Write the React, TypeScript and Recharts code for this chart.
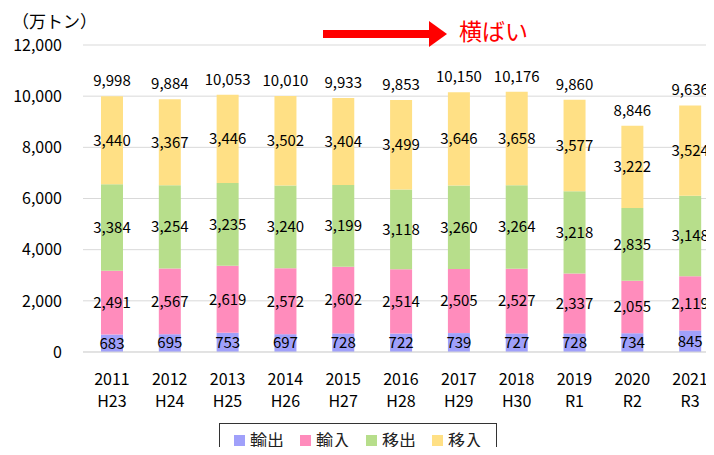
import React from 'react';
import { BarChart, Bar, XAxis, YAxis, CartesianGrid, LabelList } from 'recharts';

const YEARS = ['2011', '2012', '2013', '2014', '2015', '2016', '2017', '2018', '2019', '2020', '2021'];
const ERAS = ['H23', 'H24', 'H25', 'H26', 'H27', 'H28', 'H29', 'H30', 'R1', 'R2', 'R3'];
const EXPORTS = [683, 695, 753, 697, 728, 722, 739, 727, 728, 734, 845];
const IMPORTS = [2491, 2567, 2619, 2572, 2602, 2514, 2505, 2527, 2337, 2055, 2119];
const OUTBOUND = [3384, 3254, 3235, 3240, 3199, 3118, 3260, 3264, 3218, 2835, 3148];
const INBOUND = [3440, 3367, 3446, 3502, 3404, 3499, 3646, 3658, 3577, 3222, 3524];
const TOTALS = [9998, 9884, 10053, 10010, 9933, 9853, 10150, 10176, 9860, 8846, 9636];
const Y_TICKS = [0, 2000, 4000, 6000, 8000, 10000, 12000];

const SERIES = [
  { key: 'exp', name: '輸出', color: '#a0a0fa' },
  { key: 'imp', name: '輸入', color: '#ff8cbc' },
  { key: 'out', name: '移出', color: '#b7de8b' },
  { key: 'in', name: '移入', color: '#ffe085' },
];

const data = YEARS.map((y, i) => ({
  year: y,
  era: ERAS[i],
  exp: EXPORTS[i],
  imp: IMPORTS[i],
  out: OUTBOUND[i],
  in: INBOUND[i],
  total: TOTALS[i],
}));

const FONT = "'Noto Sans CJK JP', 'Noto Sans', sans-serif";
const fmt = (v: any) => Number(v).toLocaleString('en-US');

const XTick = (props: any) => {
  const { x, y, payload, index } = props;
  return (
    <text x={x} y={y} textAnchor="middle" fill="#000" fontSize={16} fontFamily={FONT}>
      <tspan x={x} dy={25}>{payload.value}</tspan>
      <tspan x={x} dy={22}>{ERAS[index]}</tspan>
    </text>
  );
};

const LegendBox = () => (
  <div style={{
    position: 'absolute', left: 219, top: 423,
    border: '1px solid #333', width: 278, height: 40, boxSizing: 'border-box',
    display: 'flex', alignItems: 'flex-start', paddingTop: 4, paddingLeft: 14,
    fontFamily: FONT, fontSize: 17, color: '#222', lineHeight: '24px', whiteSpace: 'nowrap',
  }}>
    {SERIES.map((s) => (
      <span key={s.key} style={{ display: 'flex', alignItems: 'center', marginRight: 16, whiteSpace: 'nowrap' }}>
        <span style={{ width: 11, height: 11, background: s.color, display: 'inline-block', marginRight: 5 }} />
        {s.name}
      </span>
    ))}
  </div>
);

export default function App() {
  return (
    <div style={{ margin: -8, width: 714, height: 455, overflow: 'hidden', position: 'relative', background: '#fff' }}>
      <BarChart
        width={719}
        height={455}
        data={data}
        margin={{ top: 45, right: 0, left: 0, bottom: 43 }}
        barSize={22}
      >
        <CartesianGrid vertical={false} stroke="#d9d9d9" />
        <XAxis
          dataKey="year"
          tick={<XTick />}
          tickLine={false}
          axisLine={{ stroke: '#d9d9d9' }}
          interval={0}
          height={60}
        />
        <YAxis
          domain={[0, 12000]}
          ticks={Y_TICKS}
          tickFormatter={fmt}
          tick={{ fill: '#000', fontSize: 16, fontFamily: FONT }}
          axisLine={false}
          tickLine={false}
          tickMargin={15}
          width={83}
        />
        {SERIES.map((s, idx) => (
          <Bar key={s.key} dataKey={s.key} name={s.name} stackId="a" fill={s.color} isAnimationActive={false}>
            <LabelList dataKey={s.key} position="center" formatter={fmt} fill="#000" fontSize={15} fontFamily={FONT} />
            {idx === SERIES.length - 1 && (
              <LabelList dataKey="total" position="top" offset={10} formatter={fmt} fill="#000" fontSize={15} fontFamily={FONT} />
            )}
          </Bar>
        ))}
      </BarChart>
      <LegendBox />
      <div style={{ position: 'absolute', left: 12, top: 8, fontFamily: FONT, fontSize: 17, color: '#000' }}>（万トン）</div>
      <svg style={{ position: 'absolute', left: 0, top: 0 }} width={714} height={60}>
        <rect x={323} y={30} width={108} height={8} fill="#ff0000" />
        <polygon points="429,21 447,34 429,47" fill="#ff0000" />
        <text x={459} y={40} fill="#ff0000" fontSize={23} fontFamily={FONT}>横ばい</text>
      </svg>
    </div>
  );
}
